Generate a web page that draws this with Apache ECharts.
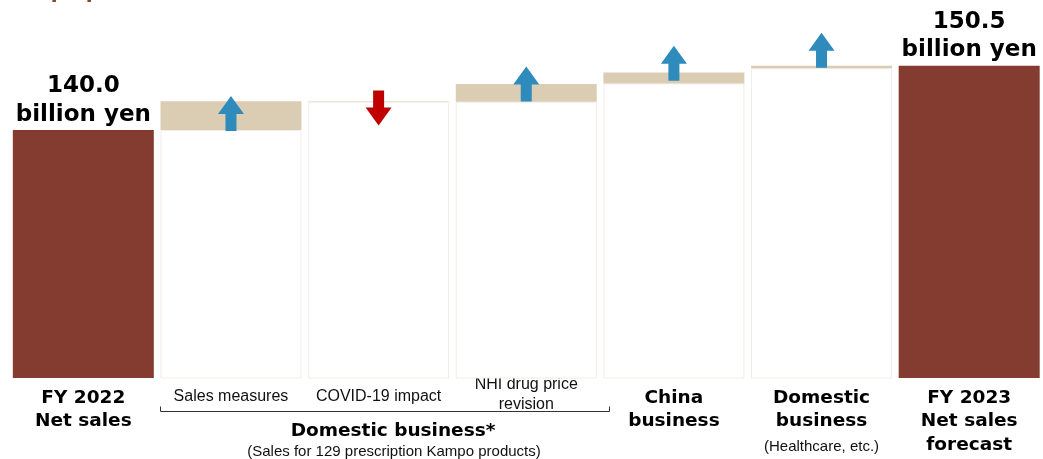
<!DOCTYPE html>
<html><head><meta charset="utf-8">
<script src="https://cdn.jsdelivr.net/npm/echarts@6/dist/echarts.min.js"></script>
<style>html,body{margin:0;padding:0;background:#fff}#c{width:1043px;height:459px}</style>
</head><body><div id="c"></div>
<script>
// ---- data (billion yen) ----
const categories = ['FY 2022\nNet sales', 'Sales measures', 'COVID-19 impact', 'NHI drug price\nrevision', 'China\nbusiness', 'Domestic\nbusiness\n(Healthcare, etc.)', 'FY 2023\nNet sales\nforecast'];
const labelStyles = [['b','b'], ['s'], ['s'], ['n','n'], ['b','b'], ['b','b','h'], ['b','b','b']];
const totals = [140.0, null, null, null, null, null, 150.5];
const stepBase = [null, 140.0, 144.6, 144.6, 147.6, 150.1, null];
const stepChange = [null, 4.7, 0.1, 2.9, 1.8, 0.4, null];
const arrowLevel = [null, 142.7, 143.6, 147.5, 150.9, 153.0, null];
const arrowDir = [null, 'up', 'down', 'up', 'up', 'up', null];
const unitText = 'billion yen';

const UP = 'path://M13,0L26,18L18.5,18L18.5,35L7.5,35L7.5,18L0,18Z';
const DOWN = 'path://M7.5,0L18.5,0L18.5,17L26,17L13,35L0,17L7.5,17Z';

const chart = echarts.init(document.getElementById('c'), null, {renderer: 'canvas'});
const BOLD = 'DejaVu Sans';
const REG = 'Liberation Sans';

const option = {
  animation: false,
  backgroundColor: '#ffffff',
  grid: {left: 9.5, right: -2.5, top: 7.5, bottom: 81, containLabel: false},
  xAxis: {
    type: 'category',
    data: categories,
    axisLine: {show: false},
    axisTick: {show: false},
    axisLabel: {
      interval: 0,
      margin: -3,
      formatter: function (v, i) {
        const lines = v.split('\n');
        const st = labelStyles[i];
        const body = lines.map((t, k) => '{' + st[k] + '|' + t + '}').join('\n');
        return st[0] === 'n' ? body : '{sp| }\n' + body;
      },
      rich: {
        sp: {fontSize: 1, lineHeight: 11},
        b: {fontFamily: BOLD, fontWeight: 'bold', fontSize: 18.5, lineHeight: 23.6, color: '#000'},
        s: {fontFamily: REG, fontSize: 16, lineHeight: 22, color: '#111'},
        n: {fontFamily: REG, fontSize: 16, lineHeight: 20, color: '#111'},
        h: {fontFamily: REG, fontSize: 15, lineHeight: 28, color: '#111'}
      }
    }
  },
  yAxis: {type: 'value', min: 99.5, max: 160, show: false, splitLine: {show: false}},
  series: [
    {
      name: 'base', type: 'bar', stack: 'w', barWidth: 141, data: stepBase,
      itemStyle: {color: '#ffffff', borderColor: '#f2ede6', borderWidth: 1},
      emphasis: {disabled: true}
    },
    {
      name: 'change', type: 'bar', stack: 'w', barWidth: 141, data: stepChange,
      itemStyle: {color: '#dbcdb3'},
      emphasis: {disabled: true}
    },
    {
      name: 'total', type: 'bar', stack: 'w', barWidth: 141, data: totals,
      itemStyle: {color: '#833c2f'},
      emphasis: {disabled: true},
      label: {
        show: true, position: 'top', distance: 1,
        formatter: p => '{v|' + p.value.toFixed(1) + '}\n{u|' + unitText + '}',
        rich: {
          v: {fontFamily: BOLD, fontWeight: 'bold', fontSize: 23, lineHeight: 28.5, color: '#000'},
          u: {fontFamily: BOLD, fontWeight: 'bold', fontSize: 23, lineHeight: 28.5, color: '#000'}
        }
      }
    },
    {
      name: 'arrows', type: 'scatter', z: 5, symbolSize: [26, 35],
      itemStyle: {opacity: 1},
      data: arrowLevel.map((v, i) => v == null ? '-' : {
        value: v,
        symbol: arrowDir[i] === 'up' ? UP : DOWN,
        itemStyle: {color: arrowDir[i] === 'up' ? '#2e8bbb' : '#c00000', opacity: 1}
      }),
      emphasis: {disabled: true}
    }
  ],
  graphic: [
    {type: 'text', left: 1, top: -17, style: {text: 'Kampo products', font: 'bold 20px "DejaVu Sans"', fill: '#8b3e31'}},
    {type: 'polyline', shape: {points: [[160.5, 406.5], [160.5, 411.5], [609.5, 411.5], [609.5, 406.5]]}, style: {stroke: '#333', lineWidth: 1, fill: null}},
    {type: 'text', x: 393, y: 431, style: {text: 'Domestic business*', font: 'bold 18.5px "DejaVu Sans"', fill: '#000', align: 'center', verticalAlign: 'middle'}},
    {type: 'text', x: 394, y: 452, style: {text: '(Sales for 129 prescription Kampo products)', font: '15px "Liberation Sans"', fill: '#111', align: 'center', verticalAlign: 'middle'}}
  ]
};
chart.setOption(option);
</script>
</body></html>
